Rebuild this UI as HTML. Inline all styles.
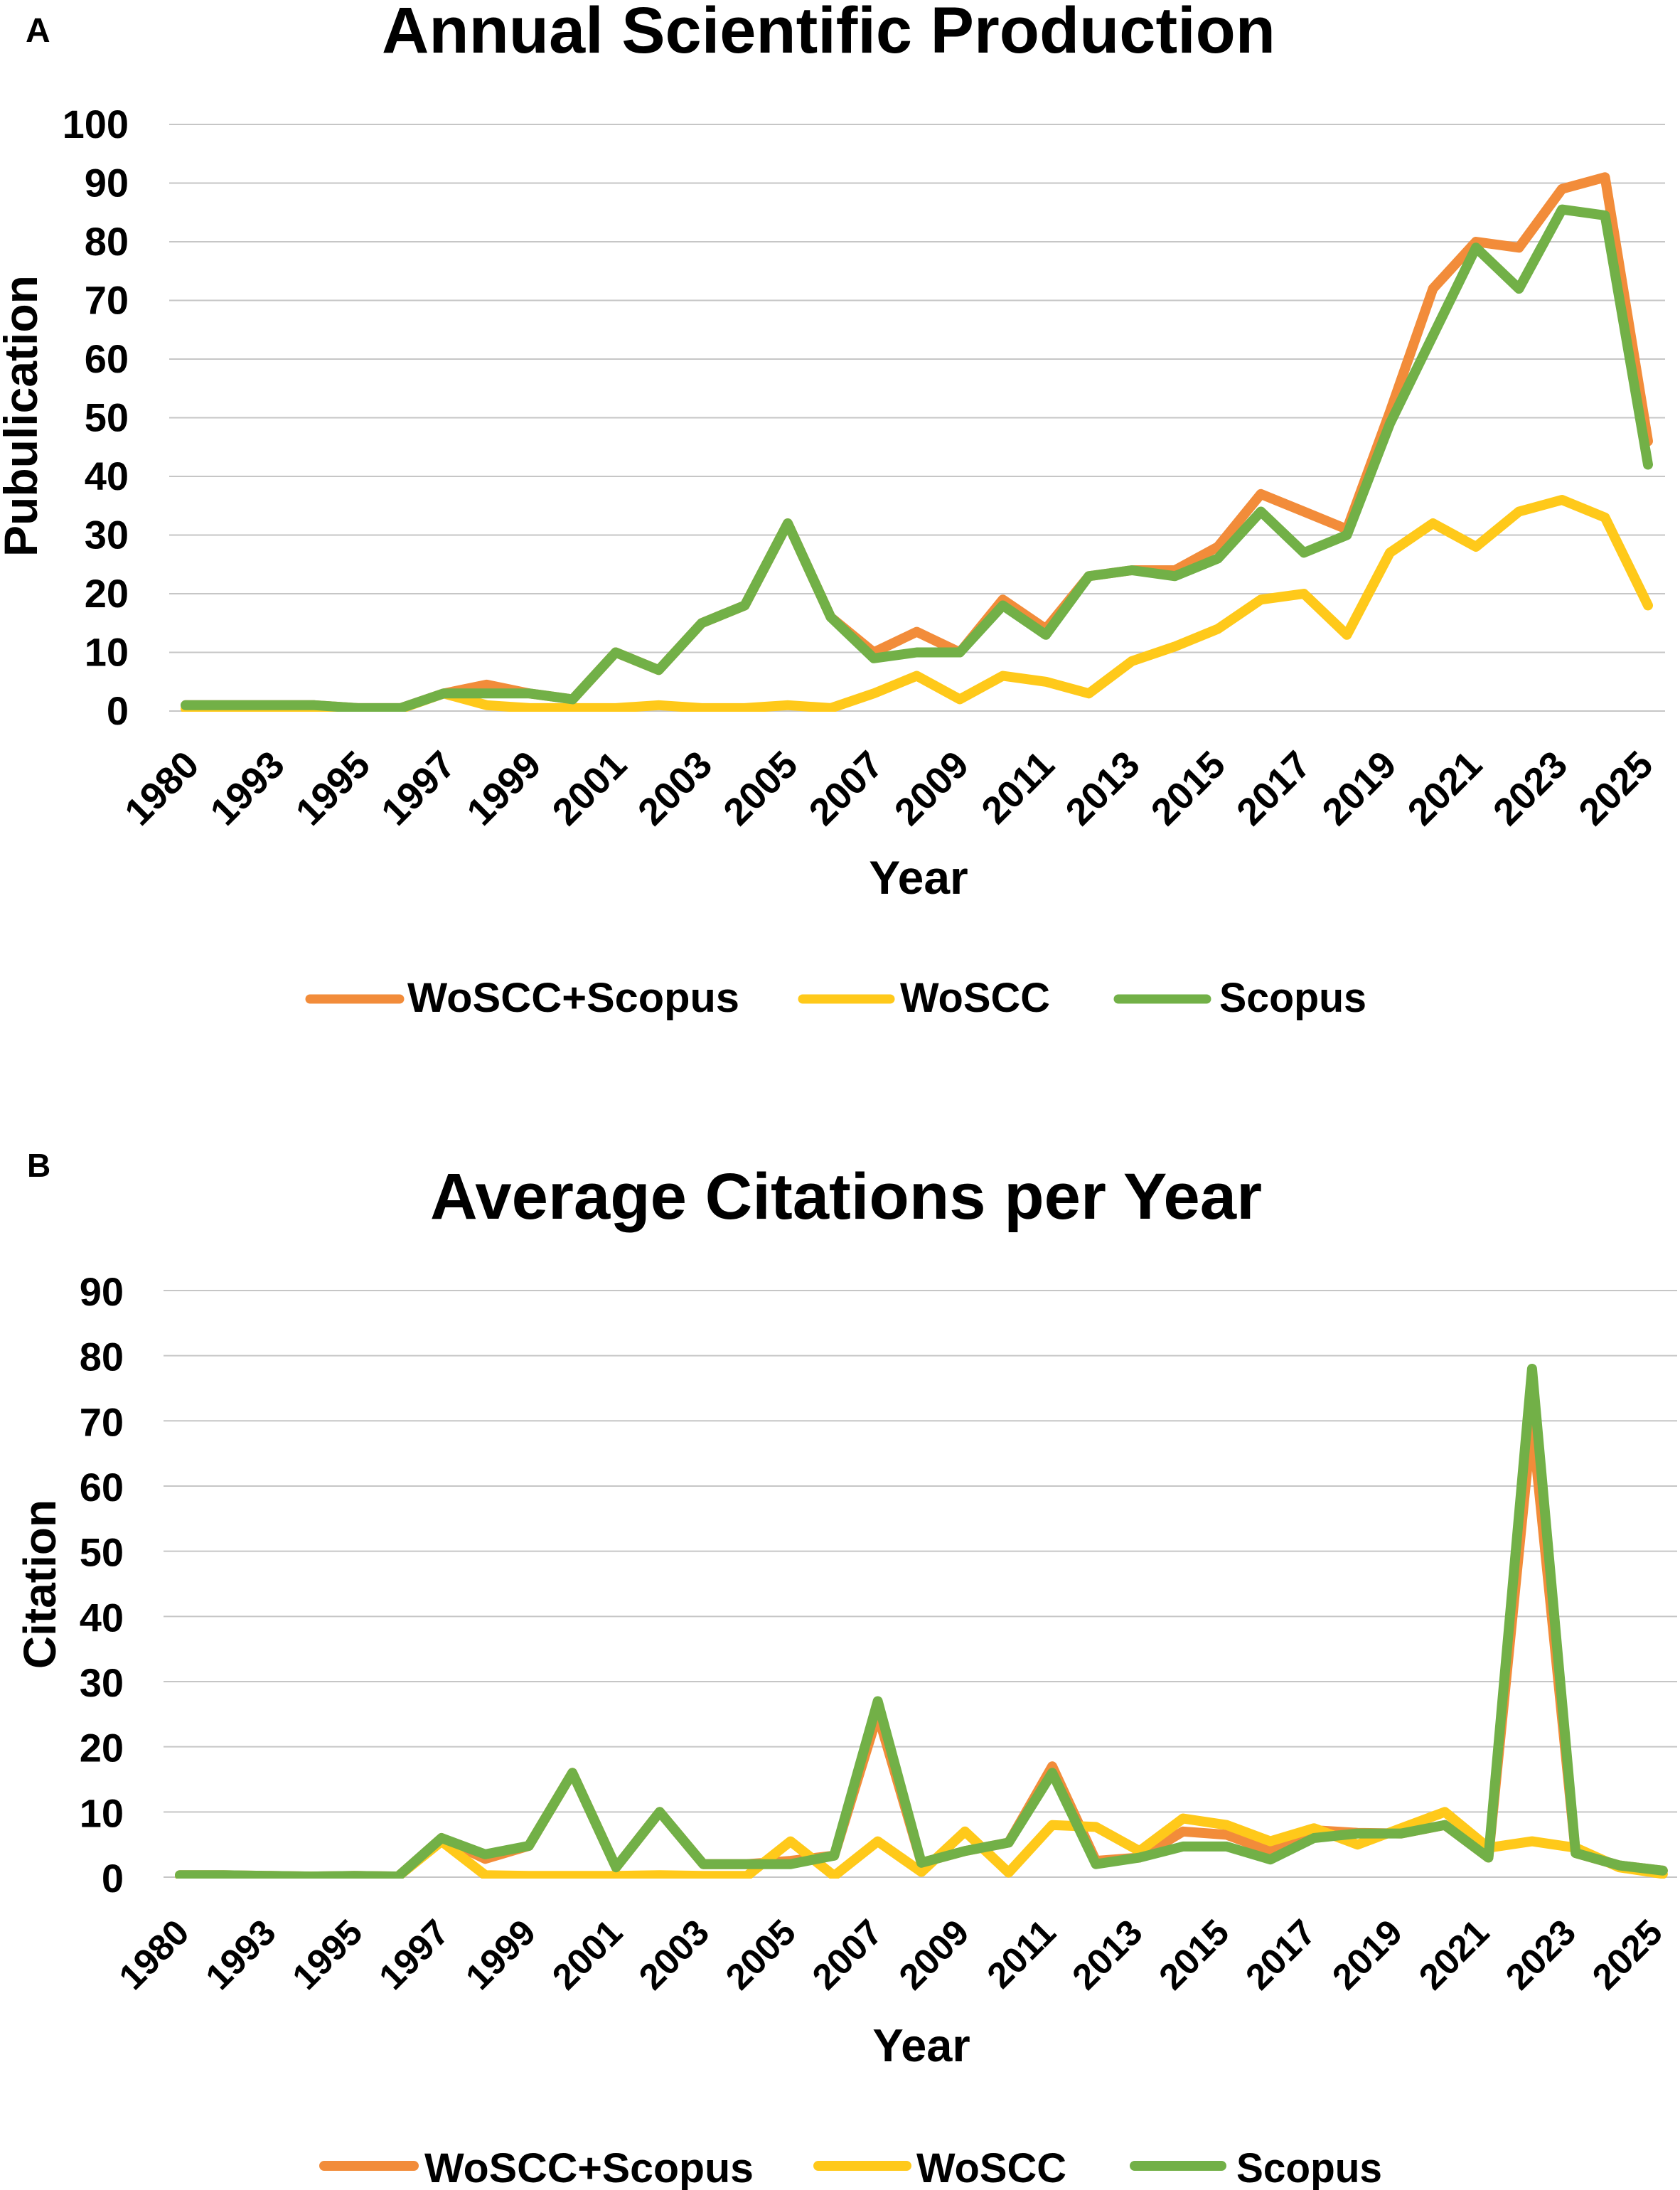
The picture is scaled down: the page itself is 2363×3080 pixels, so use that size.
<!DOCTYPE html>
<html lang="en">
<head>
<meta charset="utf-8">
<title>Annual Scientific Production and Average Citations per Year</title>
<style>
  html, body { margin: 0; padding: 0; background: #fff; }
  svg { display: block; }
  text { font-family: "Liberation Sans", Arial, sans-serif; font-weight: bold; fill: #000; }
</style>
</head>
<body>
<svg id="figure" xmlns="http://www.w3.org/2000/svg" width="2363" height="3080" viewBox="0 0 2363 3080">
  <rect x="0" y="0" width="2363" height="3080" fill="#fff"/>
  <defs>
    <clipPath id="clip-a"><rect x="200" y="100" width="2163" height="901"/></clipPath>
    <clipPath id="clip-b"><rect x="200" y="1750" width="2163" height="892"/></clipPath>
  </defs>

  <g id="panel-a">
    <text x="36" y="59" font-size="48">A</text>
    <text x="537" y="74" font-size="92" textLength="1257" lengthAdjust="spacingAndGlyphs">Annual Scientific Production</text>
    <text transform="translate(52 585) rotate(-90)" text-anchor="middle" font-size="66">Pubulication</text>
    <text x="1292" y="1257" text-anchor="middle" font-size="66">Year</text>
    <g id="plot-a"></g>
    <g>
      <g>
        <line x1="436" y1="1405" x2="562" y2="1405" stroke="#F28C3A" stroke-width="13" stroke-linecap="round"/>
        <text x="573" y="1423" font-size="58" textLength="467" lengthAdjust="spacingAndGlyphs">WoSCC+Scopus</text>
      </g>
      <g>
        <line x1="1129" y1="1405" x2="1252" y2="1405" stroke="#FFC91A" stroke-width="13" stroke-linecap="round"/>
        <text x="1266" y="1423" font-size="58" textLength="211" lengthAdjust="spacingAndGlyphs">WoSCC</text>
      </g>
      <g>
        <line x1="1573" y1="1405" x2="1697" y2="1405" stroke="#72B047" stroke-width="13" stroke-linecap="round"/>
        <text x="1715" y="1423" font-size="58" textLength="207" lengthAdjust="spacingAndGlyphs">Scopus</text>
      </g>
    </g>
  </g>

  <g id="panel-b">
    <text x="38" y="1655" font-size="46">B</text>
    <text x="605" y="1714" font-size="92" textLength="1170" lengthAdjust="spacingAndGlyphs">Average Citations per Year</text>
    <text transform="translate(78 2228) rotate(-90)" text-anchor="middle" font-size="64">Citation</text>
    <text x="1296" y="2899" text-anchor="middle" font-size="65">Year</text>
    <g id="plot-b"></g>
    <g>
      <g>
        <line x1="456" y1="3046" x2="582" y2="3046" stroke="#F28C3A" stroke-width="14" stroke-linecap="round"/>
        <text x="597" y="3069" font-size="58" textLength="463" lengthAdjust="spacingAndGlyphs">WoSCC+Scopus</text>
      </g>
      <g>
        <line x1="1151" y1="3046" x2="1275" y2="3046" stroke="#FFC91A" stroke-width="14" stroke-linecap="round"/>
        <text x="1289" y="3069" font-size="58" textLength="211" lengthAdjust="spacingAndGlyphs">WoSCC</text>
      </g>
      <g>
        <line x1="1596" y1="3046" x2="1718" y2="3046" stroke="#72B047" stroke-width="14" stroke-linecap="round"/>
        <text x="1739" y="3069" font-size="58" textLength="205" lengthAdjust="spacingAndGlyphs">Scopus</text>
      </g>
    </g>
  </g>
</svg>

<script>
const categories = ['1980','1992','1993','1994','1995','1996','1997','1998','1999','2000','2001','2002','2003','2004','2005','2006','2007','2008','2009','2010','2011','2012','2013','2014','2015','2016','2017','2018','2019','2020','2021','2022','2023','2024','2025'];

const yTicksA = [0,10,20,30,40,50,60,70,80,90,100];
const combinedA = [1,1,1,1,0.5,0.5,3,4.5,3,2,10,7,15,18,32,16,10,13.5,10,19,14,23,24,24,28,37,34,31,51,72,80,79,89,91,46];
const wosccA = [0.4,0.4,0.4,0.4,0.4,0.4,3,1,0.5,0.5,0.5,1,0.5,0.5,1,0.5,3,6,2,6,5,3,8.5,11,14,19,20,13,27,32,28,34,36,33,18];
const scopusA = [1,1,1,1,0.5,0.5,3,3,3,2,10,7,15,18,32,16,9,10,10,18,13,23,24,23,26,34,27,30,49,64,79,72,85.5,84.5,42];

const yTicksB = [0,10,20,30,40,50,60,70,80,90];
const combinedB = [0.3,0.3,0.2,0.1,0.2,0.1,6,2.8,4.8,16,1.5,10,2,2,2.5,3.3,25,2.2,4,5.3,17,2.5,3,7,6.5,4,7.2,6.8,6.7,8,3,70,3.7,1.8,1];
const wosccB = [0.2,0.2,0.1,0.1,0.1,0.1,5.5,0.3,0.2,0.2,0.2,0.3,0.2,0.2,5.5,0.2,5.5,0.8,7,0.7,8,7.7,4,9,8,5.5,7.5,5,7.5,10,4.5,5.5,4.5,1.5,0.5];
const scopusB = [0.3,0.3,0.2,0.1,0.2,0.1,6,3.5,4.8,16,1.5,10,2,2,2,3.3,27,2.2,4,5.3,16,2,3,4.7,4.7,2.7,6,6.7,6.7,8,3,78,3.7,1.8,1];

const SVG_NS = 'http://www.w3.org/2000/svg';

function pathFrom(values, xScale, yScale) {
  return values.map(function (v, i) {
    return (i === 0 ? 'M' : 'L') + xScale(i).toFixed(1) + ' ' + yScale(v).toFixed(1);
  }).join(' ');
}

function drawGrid(root, ticks, yScale, gridLeft, gridRight, tickRight, tickDy, suffix) {
  ticks.forEach(function (t) {
    const y = yScale(t);
    const line = document.createElementNS(SVG_NS, 'line');
    line.setAttribute('x1', gridLeft);
    line.setAttribute('x2', gridRight);
    line.setAttribute('y1', y);
    line.setAttribute('y2', y);
    line.setAttribute('stroke', '#c6c6c6');
    line.setAttribute('stroke-width', '2');
    
    
    root.appendChild(line);
    const label = document.createElementNS(SVG_NS, 'text');
    label.setAttribute('x', tickRight);
    label.setAttribute('y', y + tickDy);
    label.setAttribute('text-anchor', 'end');
    label.setAttribute('font-size', '56');
    
    
    label.textContent = String(t);
    root.appendChild(label);
  });
}

function drawXLabels(root, labelX, labelY, fontSize, suffix) {
  categories.forEach(function (c, i) {
    if (i % 2 !== 0) return;
    const x = labelX(i);
    const label = document.createElementNS(SVG_NS, 'text');
    label.setAttribute('transform', 'translate(' + x + ' ' + labelY + ') rotate(-45)');
    label.setAttribute('text-anchor', 'end');
    label.setAttribute('font-size', fontSize);
    
    
    label.textContent = c;
    root.appendChild(label);
  });
}

function drawSeries(root, values, color, clipId, xScale, yScale, name) {
  const p = document.createElementNS(SVG_NS, 'path');
  p.setAttribute('d', pathFrom(values, xScale, yScale));
  p.setAttribute('fill', 'none');
  p.setAttribute('stroke', color);
  p.setAttribute('stroke-width', '14');
  p.setAttribute('stroke-linejoin', 'round');
  p.setAttribute('stroke-linecap', 'round');
  p.setAttribute('clip-path', 'url(#' + clipId + ')');
  
  
  root.appendChild(p);
}

function xA(i) { return 261 + i * 60.5; }
function yA(v) { return 1000 - v * 8.25; }
function labelXA(i) { return 283 + i * 60.15; }

function xB(i) { return 253 + i * 61.35; }
function yB(v) { return 2640 - v * 9.167; }
function labelXB(i) { return 269 + i * 60.95; }

const plotA = document.getElementById('plot-a');
drawGrid(plotA, yTicksA, yA, 238, 2342, 181, 19, 'a');
drawXLabels(plotA, labelXA, 1079, 54, 'a');
drawSeries(plotA, combinedA, '#F28C3A', 'clip-a', xA, yA, 'series-woscc-scopus-a');
drawSeries(plotA, wosccA, '#FFC91A', 'clip-a', xA, yA, 'series-woscc-a');
drawSeries(plotA, scopusA, '#72B047', 'clip-a', xA, yA, 'series-scopus-a');

const plotB = document.getElementById('plot-b');
drawGrid(plotB, yTicksB, yB, 230, 2359, 174, 21, 'b');
drawXLabels(plotB, labelXB, 2721, 51, 'b');
drawSeries(plotB, combinedB, '#F28C3A', 'clip-b', xB, yB, 'series-woscc-scopus-b');
drawSeries(plotB, wosccB, '#FFC91A', 'clip-b', xB, yB, 'series-woscc-b');
drawSeries(plotB, scopusB, '#72B047', 'clip-b', xB, yB, 'series-scopus-b');
</script>
</body>
</html>
